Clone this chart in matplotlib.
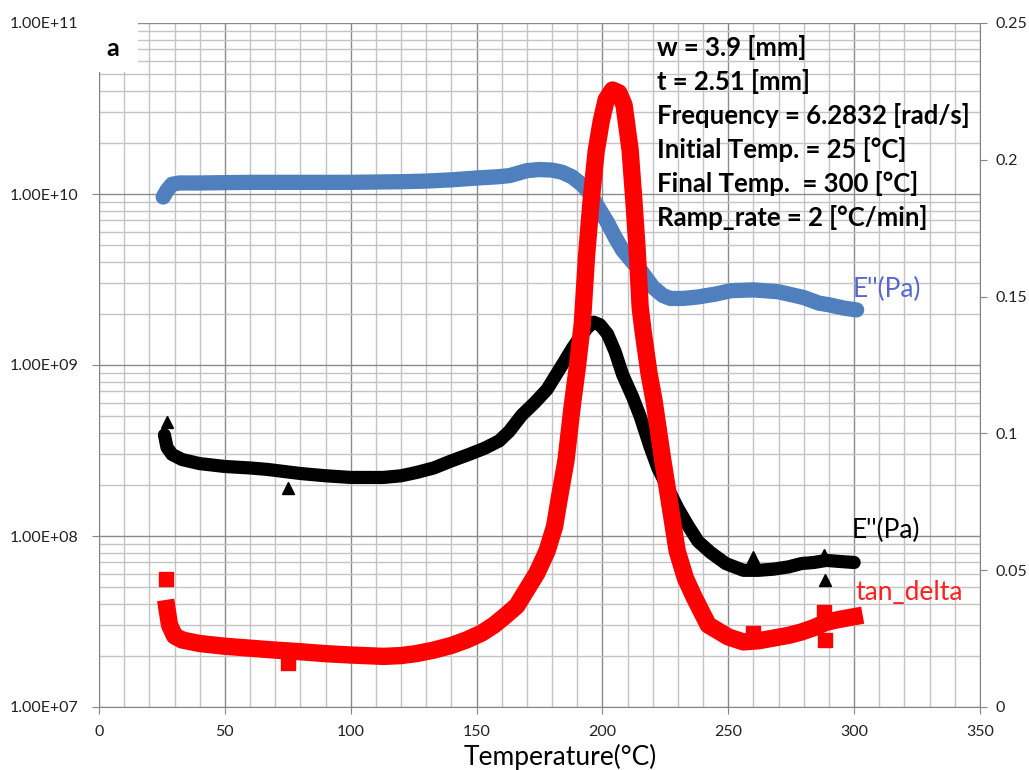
import numpy as np
import matplotlib
matplotlib.use("Agg")
import matplotlib.pyplot as plt
from matplotlib.ticker import FixedLocator, NullFormatter
from matplotlib.patches import Rectangle

plt.rcParams['font.family'] = ['Lato', 'DejaVu Sans']

# storage modulus E' (Pa), left log axis
storage_T = [25.5, 27, 29, 32, 40, 60, 80, 100, 120, 130, 140, 150, 158, 163, 167,
             170, 175, 180, 184, 188, 192, 195, 198, 202, 205, 208, 212, 215, 220,
             224, 227, 232, 238, 245, 251, 260, 270, 280, 286, 290, 296, 301]
storage_E = [9.6e9, 1.05e10, 1.14e10, 1.16e10, 1.16e10, 1.17e10, 1.17e10, 1.17e10,
             1.18e10, 1.19e10, 1.21e10, 1.24e10, 1.26e10, 1.28e10, 1.33e10,
             1.37e10, 1.39e10, 1.38e10, 1.34e10, 1.26e10, 1.13e10, 1.01e10, 8.5e9,
             6.8e9, 5.6e9, 4.7e9, 4.0e9, 3.6e9, 2.86e9, 2.55e9, 2.45e9, 2.45e9,
             2.5e9, 2.6e9, 2.72e9, 2.75e9, 2.68e9, 2.48e9, 2.3e9, 2.25e9, 2.15e9, 2.1e9]

# loss modulus E'' (Pa), left log axis
loss_T = [26, 27, 29, 33, 40, 50, 60, 67, 80, 90, 100, 113, 120, 126, 133, 140, 147,
          153, 159, 163, 168, 173, 178, 184, 188, 191, 194, 196.5, 199, 202, 205,
          208, 212, 215, 219, 222, 226, 230, 234, 238, 243, 249, 256, 262, 268, 274,
          279, 284, 289, 294, 300]
loss_E = [3.9e8, 3.3e8, 3.0e8, 2.8e8, 2.65e8, 2.55e8, 2.5e8, 2.45e8, 2.32e8, 2.25e8,
          2.2e8, 2.2e8, 2.25e8, 2.35e8, 2.5e8, 2.75e8, 3.0e8, 3.25e8, 3.6e8, 4.1e8,
          5.1e8, 6.0e8, 7.2e8, 1.0e9, 1.25e9, 1.45e9, 1.65e9, 1.78e9, 1.72e9, 1.52e9,
          1.2e9, 8.8e8, 6.5e8, 5.0e8, 3.3e8, 2.5e8, 1.9e8, 1.45e8, 1.15e8, 9.3e7,
          8.0e7, 6.9e7, 6.3e7, 6.3e7, 6.4e7, 6.6e7, 6.9e7, 7.0e7, 7.2e7, 7.1e7, 7.0e7]
loss_out_T = [27, 75, 260, 288, 288.5]
loss_out_E = [4.65e8, 1.9e8, 7.5e7, 7.7e7, 5.5e7]

# tan delta, right linear axis
tan_T = [27, 28, 30, 33, 40, 50, 60, 70, 80, 90, 100, 113, 120, 126, 133, 140, 146,
         152, 157, 161, 166, 170, 174, 178, 181, 183, 185.5, 188, 190, 192, 193.7,
         195.5, 197.5, 199.5, 201.5, 204, 206.5, 208.6, 211, 212.5, 213.8, 215,
         216.2, 218.5, 220.5, 224, 226.5, 229.7, 233, 236.5, 242, 250, 256, 262,
         268, 274, 279, 284, 289, 294, 300]
tan_delta = [0.036, 0.030, 0.026, 0.0245, 0.0232, 0.0222, 0.0215, 0.0208, 0.0202,
             0.0195, 0.019, 0.0185, 0.0188, 0.0195, 0.0208, 0.0225, 0.0245, 0.027,
             0.030, 0.033, 0.037, 0.043, 0.049, 0.057, 0.066, 0.077, 0.09, 0.11,
             0.124, 0.14, 0.165, 0.185, 0.203, 0.214, 0.222, 0.2255, 0.2245, 0.22,
             0.2036, 0.185, 0.167, 0.146, 0.137, 0.122, 0.112, 0.09, 0.0757, 0.057,
             0.047, 0.040, 0.030, 0.0256, 0.0238, 0.0242, 0.0252, 0.0262, 0.0274,
             0.029, 0.031, 0.032, 0.033]
tan_out_T = [26.6, 75, 260, 288, 288.5]
tan_out_d = [0.0468, 0.016, 0.027, 0.0347, 0.0245]

x_ticks = [0, 50, 100, 150, 200, 250, 300, 350]
left_ticks = [1e7, 1e8, 1e9, 1e10, 1e11]
left_labels = ["1.00E+07", "1.00E+08", "1.00E+09", "1.00E+10", "1.00E+11"]
right_ticks = [0, 0.05, 0.1, 0.15, 0.2, 0.25]
right_labels = ["0", "0.05", "0.1", "0.15", "0.2", "0.25"]

params = ["w = 3.9 [mm]", "t = 2.51 [mm]", "Frequency = 6.2832 [rad/s]",
          "Initial Temp. = 25 [°C]", "Final Temp.  = 300 [°C]",
          "Ramp_rate = 2 [°C/min]"]

W, H = 1029, 770
fig = plt.figure(figsize=(W / 100, H / 100), dpi=100)
ax = fig.add_axes([99 / W, 1 - 707 / H, 881 / W, 684 / H])

blue = "#4F7FBD"
ax.plot(storage_T, storage_E, color=blue, lw=11,
        solid_joinstyle="round", solid_capstyle="round", zorder=3)
ax.plot(loss_T, loss_E, color="black", lw=9.5,
        solid_joinstyle="round", solid_capstyle="round", zorder=4)
ax.plot(loss_out_T, loss_out_E, ls="none", color="black", marker="^", ms=9, zorder=4)

ax.set_yscale("log")
ax.set_xlim(0, 350)
ax.set_ylim(1e7, 1e11)
ax.xaxis.set_major_locator(FixedLocator(x_ticks))
ax.set_xticklabels([str(t) for t in x_ticks])
ax.xaxis.set_minor_locator(FixedLocator(np.arange(0, 351, 10)))
ax.yaxis.set_major_locator(FixedLocator(left_ticks))
ax.set_yticklabels(left_labels)
ax.yaxis.set_minor_locator(matplotlib.ticker.LogLocator(base=10, subs=np.arange(2, 10)))
ax.yaxis.set_minor_formatter(NullFormatter())

ax.grid(which="minor", color="#c4c4c4", lw=1.0, zorder=0)
ax.grid(which="major", color="#8a8a8a", lw=1.0, zorder=0)
ax.set_axisbelow(True)
for s in ["top", "right"]:
    ax.spines[s].set_visible(False)
for s in ["left", "bottom"]:
    ax.spines[s].set_color("#868686")
ax.tick_params(which="minor", length=0)
ax.tick_params(axis="y", which="major", length=5, color="#868686", pad=10,
               labelsize=11.5, labelcolor="#222222")
ax.tick_params(axis="x", which="major", length=5, color="#868686", pad=8,
               labelsize=11.5, labelcolor="#222222")

ax2 = ax.twinx()
ax2.plot(tan_T, tan_delta, color="#FF0000", lw=12.5,
         solid_joinstyle="round", solid_capstyle="projecting", zorder=5)
ax2.plot(tan_out_T, tan_out_d, ls="none", color="#FF0000", marker="s", ms=10)
ax2.set_ylim(0, 0.25)
ax2.yaxis.set_major_locator(FixedLocator(right_ticks))
ax2.set_yticklabels(right_labels)
for s in ["top", "left", "bottom"]:
    ax2.spines[s].set_visible(False)
ax2.spines["right"].set_color("#868686")
ax2.tick_params(axis="y", length=5, color="#868686", pad=6, labelsize=11.5,
                labelcolor="#222222")

# white box behind panel letter
fig.add_artist(Rectangle((88 / W, 1 - 72 / H), 50 / W, 54 / H,
                         transform=fig.transFigure, facecolor="white",
                         edgecolor="none", zorder=10))
fig.text(113 / W, 1 - 48 / H, "a", fontsize=18, fontweight="bold",
         ha="center", va="center", zorder=11)

for i, line in enumerate(params):
    fig.text(657 / W, 1 - (47 + 34.2 * i) / H, line, fontsize=18.5,
             fontweight="bold", ha="left", va="center", zorder=11)

fig.text(853 / W, 1 - 289 / H, "E''(Pa)", fontsize=19, color="#5468D4",
         ha="left", va="center")
fig.text(852 / W, 1 - 530 / H, "E''(Pa)", fontsize=19, color="black",
         ha="left", va="center")
fig.text(855 / W, 1 - 593 / H, "tan_delta", fontsize=19, color="#FF2020",
         ha="left", va="center")

fig.text(560 / W, 1 - 757 / H, "Temperature(°C)", fontsize=19, ha="center",
         va="center")

fig.savefig("out.png", dpi=100)
